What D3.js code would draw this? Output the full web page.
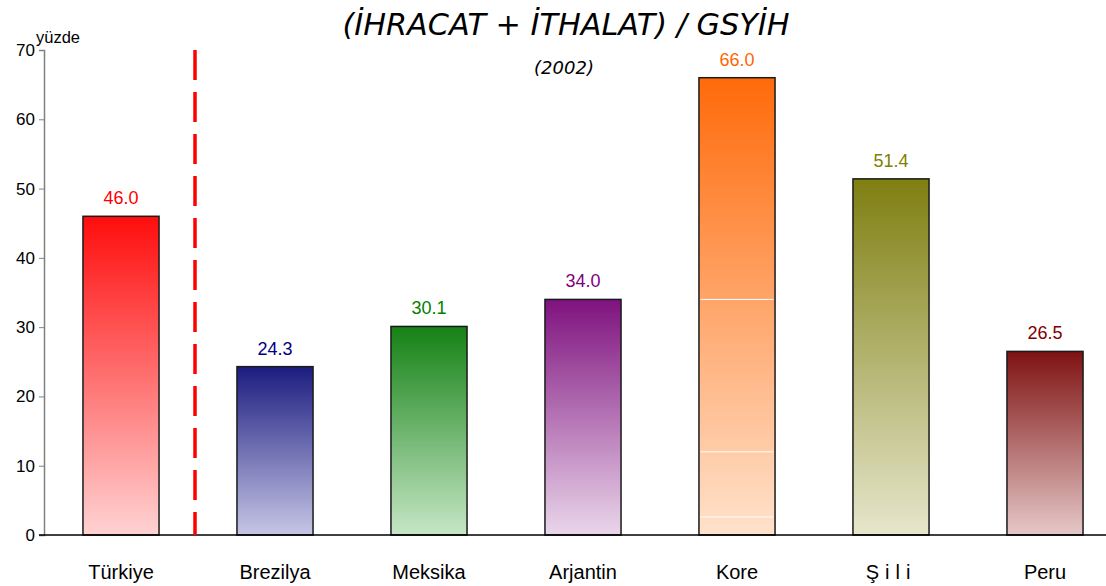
<!DOCTYPE html>
<html>
<head>
<meta charset="utf-8"/>
<title>(İhracat + İthalat) / GSYİH</title>
<script src="https://cdn.jsdelivr.net/npm/d3@7"></script>
<style>
	body { margin: 0; background: #fff; }
	svg text { font-family: "Liberation Sans", Arial, sans-serif; }
</style>
</head>
<body>
<div id="chart"></div>
<script>
// Data
var countries = ["Türkiye", "Brezilya", "Meksika", "Arjantin", "Kore", "Şili", "Peru"];
var values = [46.0, 24.3, 30.1, 34.0, 66.0, 51.4, 26.5];
var topColors = ["#ff0d0d", "#1c1c80", "#158215", "#7f127f", "#ff6a0a", "#7f7f12", "#7f1212"];
var bottomColors = ["#ffd2d2", "#c6c6e6", "#c6e6c6", "#ead6ea", "#ffe2cc", "#e6e6cc", "#e6c8c8"];
var labelColors = ["#ff0000", "#000080", "#008000", "#800080", "#ff6600", "#808000", "#800000"];
var yTicks = [0, 10, 20, 30, 40, 50, 60, 70];
// faint white streaks inside the Kore bar
var koreStreaks = [34.0, 12.0, 2.6];

var width = 1106, height = 586;
var svg = d3.select("#chart").append("svg")
	.attr("width", width).attr("height", height);

var x = d3.scaleBand().domain(countries).range([44, 1122]).paddingInner(0.506).paddingOuter(0.253);
var y = d3.scaleLinear().domain([0, 70]).range([535, 50]);

// gradients
var defs = svg.append("defs");
countries.forEach(function(c, i) {
	var g = defs.append("linearGradient").attr("id", "grad" + i)
		.attr("x1", 0).attr("y1", 0).attr("x2", 0).attr("y2", 1);
	g.append("stop").attr("offset", "0%").attr("stop-color", topColors[i]);
	g.append("stop").attr("offset", "100%").attr("stop-color", bottomColors[i]);
});

// title
svg.append("text").attr("x", 566).attr("y", 35).attr("text-anchor", "middle")
	.style("font-family", "'DejaVu Sans', Verdana, sans-serif")
	.style("font-style", "italic").style("font-size", "30px")
	.attr("textLength", 447).attr("lengthAdjust", "spacingAndGlyphs")
	.text("(İHRACAT + İTHALAT) / GSYİH");
svg.append("text").attr("x", 564).attr("y", 74).attr("text-anchor", "middle")
	.style("font-family", "'DejaVu Sans', Verdana, sans-serif")
	.style("font-style", "italic").style("font-size", "18px")
	.text("(2002)");

// y axis
var yAxis = svg.append("g").attr("transform", "translate(44,0)")
	.call(d3.axisLeft(y).tickValues(yTicks).tickSize(5).tickPadding(4));
yAxis.select(".domain").attr("stroke", "#808080").attr("stroke-width", 1.5);
yAxis.selectAll(".tick line").attr("stroke", "#808080");
yAxis.selectAll(".tick text").style("font-size", "17px").attr("fill", "#000");

svg.append("text").attr("x", 36).attr("y", 43).style("font-size", "16.5px").text("yüzde");

// bars
svg.selectAll("rect.bar").data(values).enter().append("rect")
	.attr("class", "bar")
	.attr("x", function(d, i) { return x(countries[i]); })
	.attr("y", function(d) { return y(d); })
	.attr("width", x.bandwidth())
	.attr("height", function(d) { return y(0) - y(d); })
	.attr("fill", function(d, i) { return "url(#grad" + i + ")"; })
	.attr("stroke", "#1a1a1a").attr("stroke-width", 1.5);

svg.selectAll("line.streak").data(koreStreaks).enter().append("line")
	.attr("class", "streak")
	.attr("x1", x("Kore") + 1.5).attr("x2", x("Kore") + x.bandwidth() - 1.5)
	.attr("y1", function(d) { return y(d); }).attr("y2", function(d) { return y(d); })
	.attr("stroke", "#fff").attr("stroke-width", 1);

// value labels
svg.selectAll("text.val").data(values).enter().append("text")
	.attr("class", "val")
	.attr("x", function(d, i) { return x(countries[i]) + x.bandwidth() / 2; })
	.attr("y", function(d) { return y(d) - 12; })
	.attr("text-anchor", "middle").style("font-size", "18px")
	.attr("fill", function(d, i) { return labelColors[i]; })
	.text(function(d) { return d.toFixed(1); });

// baseline
svg.append("line").attr("x1", 39).attr("x2", width).attr("y1", y(0)).attr("y2", y(0))
	.attr("stroke", "#000").attr("stroke-width", 1.5);

// category labels
svg.selectAll("text.cat").data(countries).enter().append("text")
	.attr("class", "cat")
	.attr("x", function(d) { return x(d) + x.bandwidth() / 2; })
	.attr("y", 579).attr("text-anchor", "middle").style("font-size", "20px")
	.style("letter-spacing", function(d) { return d === "Şili" ? "6px" : null; })
	.text(function(d) { return d; });

// red dashed separator between Türkiye and the others
var sepX = x("Türkiye") + x.bandwidth() + (x.step() - x.bandwidth()) / 2 - 3;
svg.append("line").attr("x1", sepX).attr("x2", sepX).attr("y1", y(70)).attr("y2", y(0))
	.attr("stroke", "#ff0000").attr("stroke-width", 3.5).attr("stroke-dasharray", "30,12");
</script>
</body>
</html>
